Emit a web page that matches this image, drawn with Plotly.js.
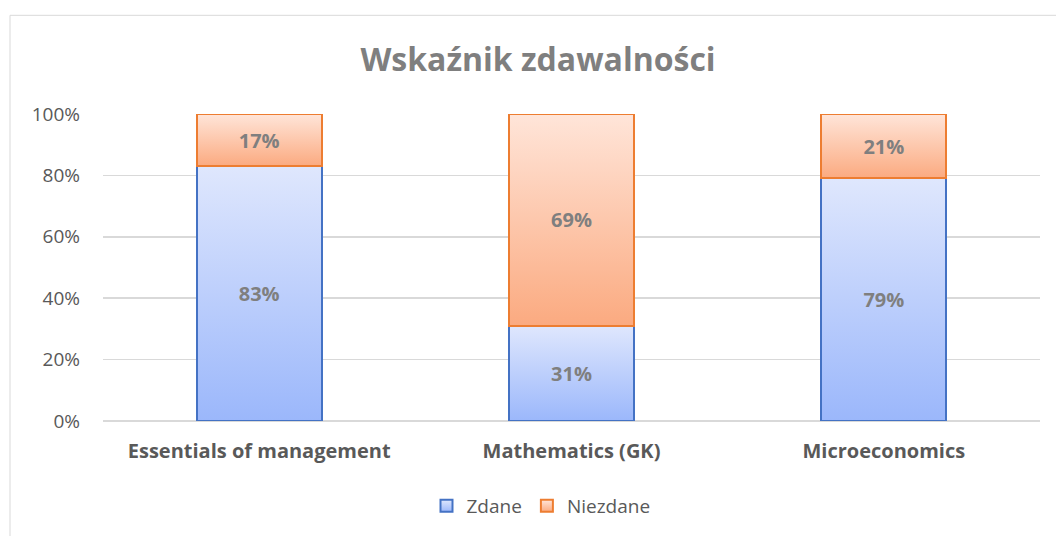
<!DOCTYPE html>
<html>
<head>
<meta charset="utf-8">
<script src="https://cdn.plot.ly/plotly-3.0.1.min.js"></script>
<style>
html,body{margin:0;padding:0;background:#fff;overflow:hidden;}
#chart{width:1056px;height:536px;}
</style>
</head>
<body>
<div id="chart"></div>
<script>
const categories = ["Essentials of management", "Mathematics (GK)", "Microeconomics"];
const zdane = [0.83, 0.31, 0.79];
const niezdane = [0.17, 0.69, 0.21];
const seriesNames = ["Zdane", "Niezdane"];
const yTicks = [0, 0.2, 0.4, 0.6, 0.8, 1.0];

const FONT = "'Open Sans', Lato, sans-serif";
const labelFont = {family: FONT, size: 20, color: "#7f7f7f", weight: "bold"};

const traces = [
  {
    type: "bar", name: seriesNames[0], x: categories, y: zdane,
    text: zdane.map(v => Math.round(v*100) + "%"),
    textposition: "inside", insidetextanchor: "middle", textangle: 0,
    textfont: labelFont, constraintext: "none",
    marker: {color: "#bccdfc", line: {color: "#4472c4", width: 2}},
    hoverinfo: "none"
  },
  {
    type: "bar", name: seriesNames[1], x: categories, y: niezdane,
    text: niezdane.map(v => Math.round(v*100) + "%"),
    textposition: "inside", insidetextanchor: "middle", textangle: 0,
    textfont: labelFont, constraintext: "none",
    marker: {color: "#fdc6a9", line: {color: "#ed7d31", width: 2}},
    hoverinfo: "none"
  }
];

const layout = {
  width: 1056, height: 536,
  paper_bgcolor: "#ffffff", plot_bgcolor: "#ffffff",
  margin: {l: 103, r: 16, t: 114, b: 114, pad: 0},
  barmode: "stack", bargap: 0.6,
  font: {family: FONT, color: "#595959"},
  title: {
    text: "Wskaźnik zdawalności",
    font: {family: FONT, size: 32, color: "#7f7f7f", weight: "bold"},
    x: 538/1056, xref: "container", xanchor: "center",
    y: 1 - 60/536, yref: "container", yanchor: "middle"
  },
  xaxis: {
    type: "category", showgrid: false, zeroline: false, showline: false,
    ticks: "", tickfont: {family: FONT, size: 20, color: "#595959", weight: "bold"},
    ticklabelstandoff: 16
  },
  yaxis: {
    range: [0, 1], tickvals: yTicks, tickformat: ".0%",
    showgrid: true, gridcolor: "#d9d9d9", gridwidth: 1.5,
    zeroline: true, zerolinecolor: "#d9d9d9", zerolinewidth: 1.5,
    showline: false, ticks: "",
    tickfont: {family: FONT, size: 19, color: "#595959"},
    ticklabelstandoff: 22
  },
  showlegend: true,
  legend: {
    orientation: "h", x: (541-103)/937, xanchor: "center",
    y: (422-506)/308, yanchor: "middle",
    font: {family: FONT, size: 19, color: "#595959"},
    traceorder: "normal", itemsizing: "constant", itemwidth: 30
  },
  shapes: [{
    type: "rect", xref: "paper", yref: "paper", layer: "below",
    x0: (10-103)/937, x1: 1.5, y0: -2, y1: (422-15)/308,
    line: {color: "#d9d9d9", width: 1}, fillcolor: "rgba(0,0,0,0)"
  }]
};

Plotly.newPlot("chart", traces, layout, {displayModeBar: false, staticPlot: true}).then(gd => {
  const svgNS = "http://www.w3.org/2000/svg";
  const svg = gd.querySelector("svg.main-svg");
  let defs = svg.querySelector("defs");
  if (!defs) { defs = document.createElementNS(svgNS, "defs"); svg.insertBefore(defs, svg.firstChild); }
  function grad(id, top, bottom) {
    const g = document.createElementNS(svgNS, "linearGradient");
    g.setAttribute("id", id);
    g.setAttribute("x1", "0"); g.setAttribute("y1", "0");
    g.setAttribute("x2", "0"); g.setAttribute("y2", "1");
    [[0, top], [1, bottom]].forEach(([o, c]) => {
      const s = document.createElementNS(svgNS, "stop");
      s.setAttribute("offset", o); s.setAttribute("stop-color", c);
      g.appendChild(s);
    });
    defs.appendChild(g);
  }
  grad("gradBlue", "#dfe7fd", "#9bb7fb");
  grad("gradOrange", "#ffe5d9", "#fbaa80");
  const fills = ["url(#gradBlue)", "url(#gradOrange)"];
  gd.querySelectorAll(".barlayer .trace").forEach((t, i) => {
    t.querySelectorAll(".point path").forEach(p => { p.style.fill = fills[i]; });
  });
  gd.querySelectorAll(".legend .traces").forEach((t, i) => {
    t.querySelectorAll(".legendpoints path").forEach(p => { p.style.fill = fills[i]; });
  });
});
</script>
</body>
</html>
